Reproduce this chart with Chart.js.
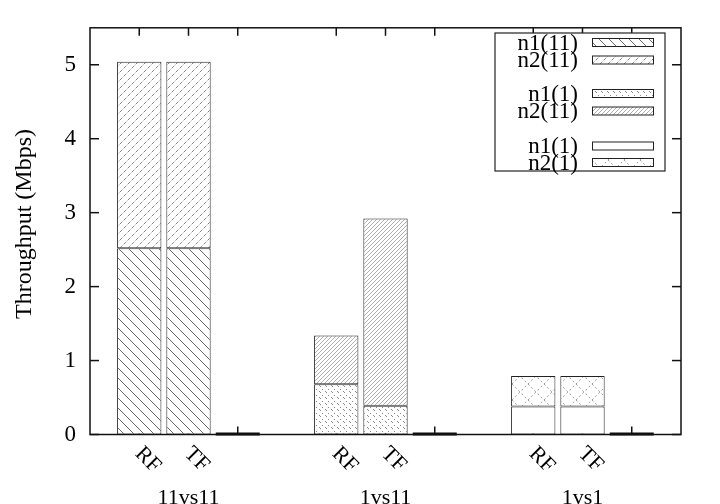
<!DOCTYPE html>
<html><head><meta charset="utf-8">
<script src="https://cdn.jsdelivr.net/npm/chart.js@4.4.0/dist/chart.umd.min.js"></script>
<style>html,body{margin:0;padding:0;background:#fff;} #c{display:block;}</style>
</head><body>
<canvas id="c" width="720" height="504"></canvas>
<script>
// ---- data ----
const groups = ['11vs11', '1vs11', '1vs1'];
const bars = ['RF', 'TF'];
const seriesLabels = ['n1(11)', 'n2(11)', 'n1(1)', 'n2(11)', 'n1(1)', 'n2(1)'];
// values [RF, TF] for each series (each series belongs to one group)
const n1_11  = [2.52, 2.52];   // group 11vs11
const n2_11  = [2.52, 2.52];   // group 11vs11
const n1_1a  = [0.68, 0.39];   // group 1vs11
const n2_11b = [0.66, 2.53];   // group 1vs11
const n1_1b  = [0.38, 0.38];   // group 1vs1
const n2_1   = [0.41, 0.41];   // group 1vs1
const seriesGroup = [0, 0, 1, 1, 2, 2];
const seriesValues = [n1_11, n2_11, n1_1a, n2_11b, n1_1b, n2_1];
const yTicks = [0, 1, 2, 3, 4, 5];
const yMax = 5.5;
const yTitle = 'Throughput (Mbps)';

// ---- slots: leading empty, then per group RF, TF, zero-bar, gap ----
const slotLabels = [''];
groups.forEach((g, gi) => { slotLabels.push(bars[0], bars[1], '', ''); });
const slotOf = (g, b) => 1 + 4 * g + b;
const zeroSlots = groups.map((g, gi) => slotOf(gi, 2));
const tickSlots = [];
groups.forEach((g, gi) => { tickSlots.push(slotOf(gi, 0), slotOf(gi, 1), slotOf(gi, 2)); });

const FONT = 'Liberation Serif, Times New Roman, serif';
const font = { family: FONT, size: 22 };

// ---- fill patterns ----
const mainCtx = document.getElementById('c').getContext('2d');
function makePattern(size, draw) {
  const c = document.createElement('canvas');
  c.width = c.height = size;
  const g = c.getContext('2d');
  g.fillStyle = '#fff';
  g.fillRect(0, 0, size, size);
  draw(g, size);
  return mainCtx.createPattern(c, 'repeat');
}
function diag(g, s, dir) {
  for (const k of [-s, 0, s]) {
    g.beginPath();
    if (dir > 0) { g.moveTo(k, 0); g.lineTo(k + s, s); }
    else { g.moveTo(k, s); g.lineTo(k + s, 0); }
    g.stroke();
  }
}
const patterns = [
  makePattern(10, (g, s) => { g.strokeStyle = '#6a6a6a'; g.lineWidth = 1; diag(g, s, 1); }),
  makePattern(8, (g, s) => {
    g.strokeStyle = '#d2d2d2'; g.lineWidth = 1; diag(g, s, -1);
    g.strokeStyle = '#808080'; g.setLineDash([2.5, 3.1]); diag(g, s, -1);
  }),
  makePattern(6, (g, s) => { g.fillStyle = '#8a8a8a'; g.fillRect(1, 1, 1, 1); g.fillRect(2, 2, 1, 1); g.fillRect(4, 5, 1, 1); }),
  makePattern(4, (g, s) => { g.strokeStyle = '#b0b0b0'; g.lineWidth = 1; diag(g, s, -1); }),
  '#ffffff',
  makePattern(16, (g, s) => { g.strokeStyle = '#9a9a9a'; g.lineWidth = 1; g.setLineDash([2, 2.5]); diag(g, s, 1); diag(g, s, -1); })
];

// ---- datasets ----
const datasets = seriesLabels.map((lab, si) => {
  const data = slotLabels.map(() => null);
  bars.forEach((b, bi) => { data[slotOf(seriesGroup[si], bi)] = seriesValues[si][bi]; });
  return {
    label: lab, data, stack: 's',
    backgroundColor: patterns[si], borderColor: '#222', borderWidth: 1,
    borderSkipped: false, categoryPercentage: 1.0, barPercentage: 0.9
  };
});

function line(ctx, x1, y1, x2, y2) { ctx.beginPath(); ctx.moveTo(x1, y1); ctx.lineTo(x2, y2); ctx.stroke(); }

const framePlugin = {
  id: 'frame',
  beforeDatasetsDraw(chart) {
    const { ctx, chartArea: a, scales: { x, y } } = chart;
    ctx.save();
    ctx.strokeStyle = '#111'; ctx.lineWidth = 1.5;
    yTicks.forEach(v => { const py = y.getPixelForValue(v); line(ctx, a.left, py, a.left + 9, py); line(ctx, a.right, py, a.right - 9, py); });
    tickSlots.forEach(i => { const px = x.getPixelForValue(i); line(ctx, px, a.bottom, px, a.bottom - 8); line(ctx, px, a.top, px, a.top + 8); });
    ctx.restore();
  },
  afterDatasetsDraw(chart) {
    const { ctx, chartArea: a, scales: { x, y } } = chart;
    ctx.save();
    const y0 = y.getPixelForValue(0);
    ctx.fillStyle = '#111';
    zeroSlots.forEach(i => { const px = x.getPixelForValue(i); ctx.fillRect(px - 22, y0 - 2, 44, 3); });
    ctx.strokeStyle = '#111'; ctx.lineWidth = 1.5;
    ctx.strokeRect(a.left, a.top, a.right - a.left, a.bottom - a.top);
    // y axis title
    ctx.fillStyle = '#000';
    ctx.save();
    ctx.font = '24px ' + FONT;
    ctx.translate(25, 224);
    ctx.rotate(-Math.PI / 2);
    ctx.textAlign = 'center'; ctx.textBaseline = 'middle';
    ctx.fillText(yTitle, 0, 0);
    ctx.restore();
    // rotated bar labels
    ctx.font = '22px ' + FONT;
    groups.forEach((g, gi) => {
      bars.forEach((b, bi) => {
        const px = x.getPixelForValue(slotOf(gi, bi));
        ctx.save();
        ctx.translate(px - 1, a.bottom + 16);
        ctx.rotate(Math.PI / 4);
        ctx.textAlign = 'left'; ctx.textBaseline = 'middle';
        ctx.fillText(b, 0, 0);
        ctx.restore();
      });
      const pc = x.getPixelForValue(slotOf(gi, 1));
      ctx.textAlign = 'center'; ctx.textBaseline = 'alphabetic';
      ctx.fillText(g, pc, 504);
    });
    // legend
    const lx0 = 495, ly0 = 33, lx1 = 665, ly1 = 171;
    ctx.fillStyle = '#fff';
    ctx.fillRect(lx0, ly0, lx1 - lx0, ly1 - ly0);
    ctx.strokeStyle = '#222'; ctx.lineWidth = 1.2;
    ctx.strokeRect(lx0, ly0, lx1 - lx0, ly1 - ly0);
    const rows = [42.5, 60, 93.5, 111, 146, 162.5];
    ctx.font = '23px ' + FONT;
    seriesLabels.forEach((lab, si) => {
      const cy = rows[si];
      ctx.fillStyle = patterns[si];
      ctx.fillRect(592, cy - 4, 61, 8);
      ctx.strokeStyle = '#222'; ctx.lineWidth = 1;
      ctx.strokeRect(592.5, cy - 4, 61, 8);
      ctx.fillStyle = '#000';
      ctx.textAlign = 'right'; ctx.textBaseline = 'middle';
      ctx.fillText(lab, 578, cy + 1);
    });
    ctx.restore();
  }
};

new Chart(mainCtx, {
  type: 'bar',
  data: { labels: slotLabels, datasets },
  options: {
    responsive: false, animation: false, devicePixelRatio: 1,
    layout: { padding: { top: 27.5, right: 39, left: 0, bottom: 0 } },
    plugins: { legend: { display: false }, tooltip: { enabled: false } },
    scales: {
      x: {
        stacked: true, offset: false,
        grid: { display: false, drawTicks: false }, border: { display: false },
        ticks: { display: false },
        afterFit(s) { s.height = 69.5; }
      },
      y: {
        stacked: true, min: 0, max: yMax,
        afterBuildTicks(s) { s.ticks = yTicks.map(v => ({ value: v })); },
        grid: { display: false, drawTicks: false }, border: { display: false },
        ticks: { font: { family: FONT, size: 23 }, color: '#000', padding: 14 },
        title: { display: false },
        afterFit(s) { s.width = 90; }
      }
    }
  },
  plugins: [framePlugin]
});
</script>
</body></html>
